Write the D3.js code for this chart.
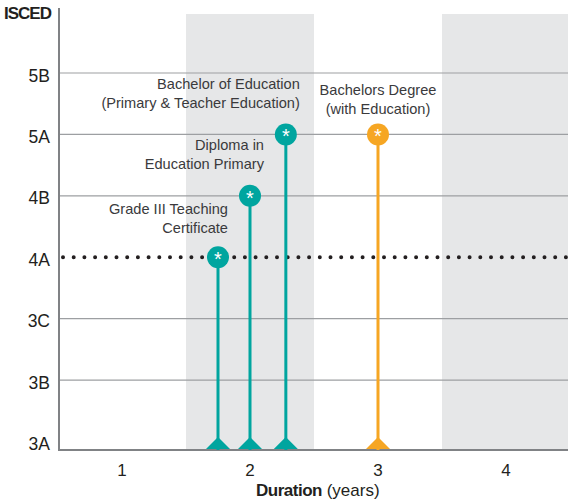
<!DOCTYPE html>
<html>
<head>
<meta charset="utf-8">
<script src="https://cdn.jsdelivr.net/npm/d3@7"></script>
<style>
  body { margin: 0; background: #fff; }
  text { font-family: "Liberation Sans", Arial, sans-serif; fill: #231f20; }
</style>
</head>
<body>
<div id="chart"></div>
<script>
// levels on the y axis (bottom to top)
const levels = ["3A", "3B", "3C", "4A", "4B", "5A", "5B"]
const durationTicks = [1, 2, 3, 4]
const shadedBands = [[1.5, 2.5], [3.5, 4.5]]

// qualifications
const names = [
  ["Grade III Teaching", "Certificate"],
  ["Diploma in", "Education Primary"],
  ["Bachelor of Education", "(Primary & Teacher Education)"],
  ["Bachelors Degree", "(with Education)"]
]
const durations = [1.75, 2.0, 2.28, 3.0]
const isced = ["4A", "4B", "5A", "5A"]
const groups = ["teal", "teal", "teal", "orange"]

const colors = {teal: "#00a59f", orange: "#f6a623"}

// label placement relative to the circle: [anchor, dx, dy]
const labelPlace = [["end", 10, -43], ["end", 14, -46], ["end", 14, -45], ["middle", 0, -39]]

const width = 568, height = 504
const plot = {left: 59, right: 568, top: 14, bottom: 450}

const svg = d3.select("#chart")
  .append("svg")
  .attr("width", width)
  .attr("height", height)

// scales
const x = d3.scaleLinear()
  .domain([0.5, 4.5])
  .range([plot.left - 1, plot.left - 1 + 512])

const y = d3.scalePoint()
  .domain(levels)
  .range([441.5, 73])

// grey column bands
svg.selectAll(".band")
  .data(shadedBands)
  .enter()
  .append("rect")
    .attr("x", d => x(d[0]))
    .attr("y", plot.top)
    .attr("width", d => x(d[1]) - x(d[0]))
    .attr("height", plot.bottom - plot.top)
    .style("fill", "#e6e7e8")

// gridlines (4A is drawn dotted, 3A is the baseline)
svg.selectAll(".grid")
  .data(levels.filter(d => d !== "4A" && d !== "3A"))
  .enter()
  .append("line")
    .attr("x1", plot.left)
    .attr("x2", plot.right)
    .attr("y1", d => y(d))
    .attr("y2", d => y(d))
    .style("stroke", "#9d9fa2")
    .style("stroke-width", 1.2)

// dotted 4A line
svg.append("line")
  .attr("x1", plot.left + 4)
  .attr("x2", plot.right)
  .attr("y1", y("4A"))
  .attr("y2", y("4A"))
  .style("stroke", "#231f20")
  .style("stroke-width", 4)
  .style("stroke-linecap", "round")
  .style("stroke-dasharray", "0 10.7")

// axes lines
svg.append("line")
  .attr("x1", plot.left).attr("x2", plot.left)
  .attr("y1", plot.top - 6).attr("y2", plot.bottom)
  .style("stroke", "#808285").style("stroke-width", 2)
svg.append("line")
  .attr("x1", plot.left - 1).attr("x2", plot.right)
  .attr("y1", plot.bottom).attr("y2", plot.bottom)
  .style("stroke", "#808285").style("stroke-width", 2)

// y tick labels
svg.selectAll(".ylab")
  .data(levels)
  .enter()
  .append("text")
    .attr("x", 50)
    .attr("y", d => y(d) + 8.5)
    .attr("text-anchor", "end")
    .style("font-size", "17.5px")
    .text(d => d)

svg.append("text")
  .attr("x", 4)
  .attr("y", 18.5)
  .style("font-size", "17px")
  .style("font-weight", "bold")
  .attr("letter-spacing", "-1")
  .text("ISCED")

// x tick labels
svg.selectAll(".xlab")
  .data(durationTicks)
  .enter()
  .append("text")
    .attr("x", d => x(d))
    .attr("y", 476)
    .attr("text-anchor", "middle")
    .style("font-size", "17px")
    .text(d => d)

const xTitle = svg.append("text")
  .attr("x", x(2.53))
  .attr("y", 495.5)
  .attr("text-anchor", "middle")
  .style("font-size", "17px")
xTitle.append("tspan").style("font-weight", "bold").attr("letter-spacing", "-0.5").text("Duration")
xTitle.append("tspan").text(" (years)")

// lollipops
const quals = durations.map((d, i) => ({
  dur: d, level: isced[i], color: colors[groups[i]], name: names[i], place: labelPlace[i]
}))

const g = svg.selectAll(".qual")
  .data(quals)
  .enter()
  .append("g")

g.append("line")
  .attr("x1", d => x(d.dur))
  .attr("x2", d => x(d.dur))
  .attr("y1", d => y(d.level))
  .attr("y2", plot.bottom)
  .style("stroke", d => d.color)
  .style("stroke-width", 3)

g.append("path")
  .attr("d", d => {
    const cx = x(d.dur), b = plot.bottom
    return `M${cx - 12},${b - 1} L${cx},${b - 13} L${cx + 12},${b - 1} Z`
  })
  .style("fill", d => d.color)

g.append("circle")
  .attr("cx", d => x(d.dur))
  .attr("cy", d => y(d.level))
  .attr("r", 11)
  .style("fill", d => d.color)

g.append("text")
  .attr("x", d => x(d.dur))
  .attr("y", d => y(d.level) + 9)
  .attr("text-anchor", "middle")
  .style("font-size", "20px")
  .style("fill", "#fff")
  .text("*")

// labels
g.each(function(d) {
  const [anchor, dx, dy] = d.place
  const lx = x(d.dur) + dx
  const ly = y(d.level) + dy
  const t = d3.select(this).append("text")
    .attr("text-anchor", anchor)
    .style("font-size", "14.6px")
    .style("fill", "#3a3a3c")
  d.name.forEach((line, i) => {
    t.append("tspan")
      .attr("x", lx)
      .attr("y", ly + i * 19)
      .text(line)
  })
})
</script>
</body>
</html>
